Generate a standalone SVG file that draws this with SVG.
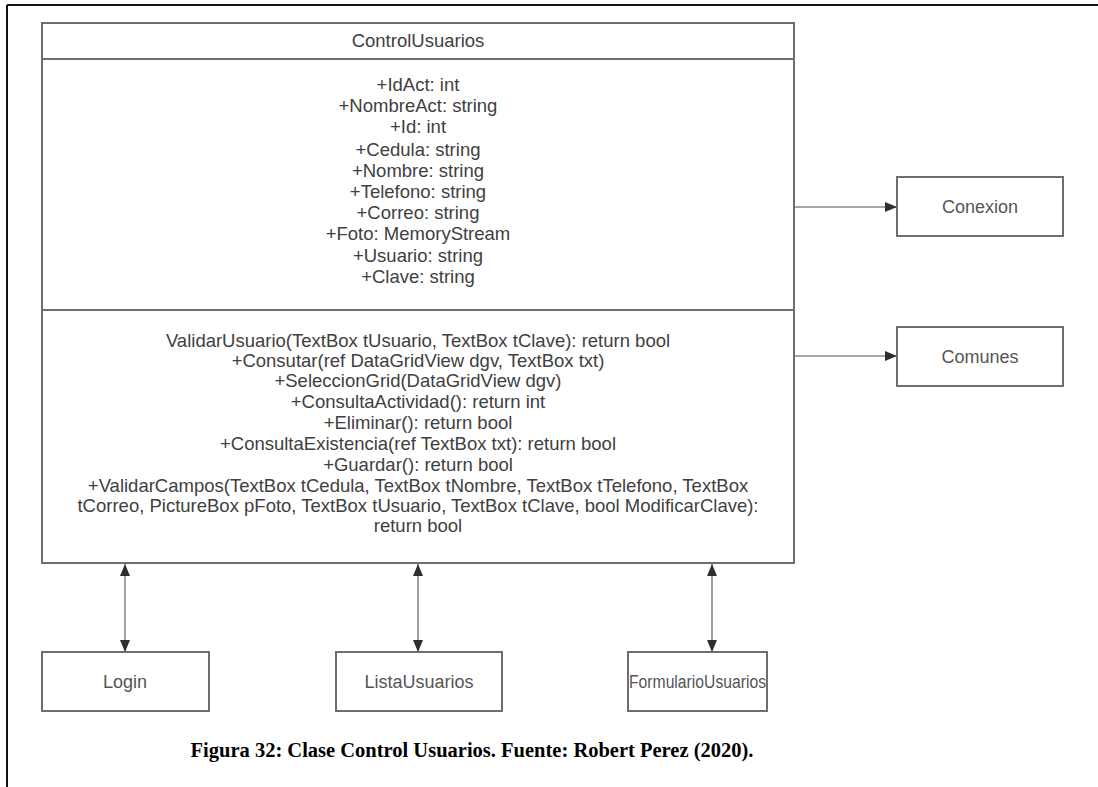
<svg xmlns="http://www.w3.org/2000/svg" width="1098" height="787" viewBox="0 0 1098 787">
  <style>
    .box { fill: #ffffff; stroke: #6e6e6e; stroke-width: 2; }
    .div { stroke: #6e6e6e; stroke-width: 2; }
    .txt { font-family: "Liberation Sans", Arial, sans-serif; font-size: 18.5px; fill: #404040; text-anchor: middle; }
    .lbl { font-family: "Liberation Sans", Arial, sans-serif; font-size: 18px; fill: #555555; text-anchor: middle; }
    .edge { stroke: #8a8a8a; stroke-width: 1.6; fill: none; }
    .cap { font-family: "Liberation Serif", "Times New Roman", serif; font-weight: bold; font-size: 20.5px; fill: #000000; text-anchor: middle; }
  </style>
  <defs>
    <marker id="arrowEnd" viewBox="0 0 12 10" refX="12" refY="5" markerWidth="12" markerHeight="10" markerUnits="userSpaceOnUse" orient="auto">
      <path d="M0,0 L12,5 L0,10 Z" fill="#2e2e2e"/>
    </marker>
    <marker id="arrowStart" viewBox="0 0 12 10" refX="0" refY="5" markerWidth="12" markerHeight="10" markerUnits="userSpaceOnUse" orient="auto">
      <path d="M12,0 L0,5 L12,10 Z" fill="#2e2e2e"/>
    </marker>
  </defs>

  <rect x="0" y="0" width="1098" height="787" fill="#ffffff"/>

  <!-- page frame -->
  <g id="frame">
    <line x1="7" y1="5" x2="1098" y2="5" stroke="#111111" stroke-width="2"/>
    <line x1="7" y1="5" x2="7" y2="787" stroke="#111111" stroke-width="2"/>
  </g>

  <!-- connectors -->
  <g id="connectors">
    <line class="edge" x1="794" y1="207" x2="897" y2="207" marker-end="url(#arrowEnd)"/>
    <line class="edge" x1="794" y1="356" x2="897" y2="356" marker-end="url(#arrowEnd)"/>
    <line class="edge" x1="125" y1="564" x2="125" y2="652" marker-start="url(#arrowStart)" marker-end="url(#arrowEnd)"/>
    <line class="edge" x1="418" y1="564" x2="418" y2="652" marker-start="url(#arrowStart)" marker-end="url(#arrowEnd)"/>
    <line class="edge" x1="712" y1="564" x2="712" y2="652" marker-start="url(#arrowStart)" marker-end="url(#arrowEnd)"/>
  </g>

  <!-- class ControlUsuarios -->
  <g id="ControlUsuarios">
    <rect class="box" x="42" y="23" width="752" height="540"/>
    <line class="div" x1="42" y1="59" x2="794" y2="59"/>
    <line class="div" x1="42" y1="310" x2="794" y2="310"/>
    <text class="txt" x="418" y="47">ControlUsuarios</text>
    <g id="attributes">
      <text class="txt" x="418" y="91">+IdAct: int</text>
      <text class="txt" x="418" y="112">+NombreAct: string</text>
      <text class="txt" x="418" y="133">+Id: int</text>
      <text class="txt" x="418" y="156">+Cedula: string</text>
      <text class="txt" x="418" y="177">+Nombre: string</text>
      <text class="txt" x="418" y="198">+Telefono: string</text>
      <text class="txt" x="418" y="219">+Correo: string</text>
      <text class="txt" x="418" y="240">+Foto: MemoryStream</text>
      <text class="txt" x="418" y="262">+Usuario: string</text>
      <text class="txt" x="418" y="283">+Clave: string</text>
    </g>
    <g id="methods">
      <text class="txt" x="418" y="347">ValidarUsuario(TextBox tUsuario, TextBox tClave): return bool</text>
      <text class="txt" x="418" y="367">+Consutar(ref DataGridView dgv, TextBox txt)</text>
      <text class="txt" x="418" y="387">+SeleccionGrid(DataGridView dgv)</text>
      <text class="txt" x="418" y="408">+ConsultaActividad(): return int</text>
      <text class="txt" x="418" y="429">+Eliminar(): return bool</text>
      <text class="txt" x="418" y="450">+ConsultaExistencia(ref TextBox txt): return bool</text>
      <text class="txt" x="418" y="471">+Guardar(): return bool</text>
      <text class="txt" x="418" y="492">+ValidarCampos(TextBox tCedula, TextBox tNombre, TextBox tTelefono, TextBox</text>
      <text class="txt" x="418" y="512">tCorreo, PictureBox pFoto, TextBox tUsuario, TextBox tClave, bool ModificarClave):</text>
      <text class="txt" x="418" y="532">return bool</text>
    </g>
  </g>

  <g id="Conexion">
    <rect class="box" x="897" y="177" width="166" height="59"/>
    <text class="lbl" x="980" y="213">Conexion</text>
  </g>

  <g id="Comunes">
    <rect class="box" x="897" y="327" width="166" height="59"/>
    <text class="lbl" x="980" y="363">Comunes</text>
  </g>

  <g id="Login">
    <rect class="box" x="42" y="652" width="167" height="59"/>
    <text class="lbl" x="125" y="688">Login</text>
  </g>

  <g id="ListaUsuarios">
    <rect class="box" x="336" y="652" width="166" height="59"/>
    <text class="lbl" x="419" y="688">ListaUsuarios</text>
  </g>

  <g id="FormularioUsuarios">
    <rect class="box" x="628" y="652" width="139" height="59"/>
    <text class="lbl" x="697.5" y="688" textLength="137" lengthAdjust="spacingAndGlyphs">FormularioUsuarios</text>
  </g>

  <text class="cap" x="472" y="757">Figura 32: Clase Control Usuarios. Fuente: Robert Perez (2020).</text>
</svg>
